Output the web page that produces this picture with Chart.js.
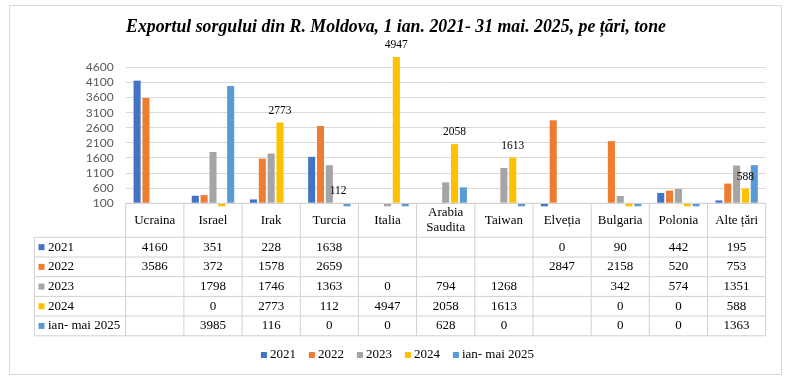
<!DOCTYPE html>
<html><head><meta charset="utf-8">
<script src="https://cdn.jsdelivr.net/npm/chart.js@4"></script>
<style>html,body{margin:0;padding:0;background:#fff}#wrap{width:792px;height:384px;position:relative}</style>
</head><body><div id="wrap"><canvas id="c" width="792" height="384"></canvas></div>
<script>
const categories = ['Ucraina','Israel','Irak','Turcia','Italia',['Arabia','Saudita'],'Taiwan','Elveția','Bulgaria','Polonia','Alte țări'];
const seriesNames = ['2021','2022','2023','2024','ian- mai 2025'];
const v2021 = [4160,351,228,1638,null,null,null,0,90,442,195];
const v2022 = [3586,372,1578,2659,null,null,null,2847,2158,520,753];
const v2023 = [null,1798,1746,1363,0,794,1268,null,342,574,1351];
const v2024 = [null,0,2773,112,4947,2058,1613,null,0,0,588];
const v2025 = [null,3985,116,0,0,628,0,null,0,0,1363];
const yMin = 100, yMax = 4600, yStep = 500;
const colors = ['#4472C4','#ED7D31','#A5A5A5','#FFC000','#5B9BD5'];
const titleText = 'Exportul sorgului din R. Moldova, 1 ian. 2021- 31 mai. 2025, pe țări, tone';
const labeledSeries = 3;

const allSeries = [v2021, v2022, v2023, v2024, v2025];
const serif = '"Liberation Serif", "Times New Roman", serif';

const extras = {
  id: 'extras',
  afterDraw(chart) {
    const ctx = chart.ctx, ca = chart.chartArea, xs = chart.scales.x;
    const n = categories.length, cw = (ca.right - ca.left) / n;
    ctx.save();
    // data labels
    const meta = chart.getDatasetMeta(labeledSeries);
    ctx.fillStyle = '#000';
    ctx.font = '11.5px ' + serif;
    ctx.textAlign = 'center'; ctx.textBaseline = 'middle';
    meta.data.forEach((el, i) => {
      const v = allSeries[labeledSeries][i];
      if (v !== null && v > 0) ctx.fillText(String(v), el.x, el.y - 12);
    });
    // table
    const top = ca.bottom, hdrB = top + 34, rowH = 19.7, leftT = 34.3;
    const bottomT = hdrB + 5 * rowH;
    ctx.strokeStyle = '#d0d0d0'; ctx.lineWidth = 1;
    const line = (x1, y1, x2, y2) => { ctx.beginPath(); ctx.moveTo(x1, y1); ctx.lineTo(x2, y2); ctx.stroke(); };
    line(ca.left, top, ca.right, top);
    for (let r = 0; r <= 5; r++) { const y = hdrB + r * rowH; line(leftT, y, ca.right, y); }
    for (let c = 0; c <= n; c++) {
      const x = (c < n ? xs.getPixelForValue(c) - cw / 2 : xs.getPixelForValue(n - 1) + cw / 2);
      line(x, top, x, bottomT);
    }
    line(leftT, hdrB, leftT, bottomT);
    ctx.fillStyle = '#000';
    ctx.font = '13px ' + serif;
    categories.forEach((cat, i) => {
      const cx = xs.getPixelForValue(i);
      const lines = Array.isArray(cat) ? cat : [cat];
      const cy = (top + hdrB) / 2;
      lines.forEach((t, k) => ctx.fillText(t, cx, cy + (k - (lines.length - 1) / 2) * 15));
    });
    allSeries.forEach((s, r) => {
      const cy = hdrB + r * rowH + rowH / 2;
      ctx.fillStyle = colors[r];
      ctx.fillRect(38.5, cy - 3, 6, 6);
      ctx.fillStyle = '#000';
      ctx.textAlign = 'left';
      ctx.fillText(seriesNames[r], 48, cy);
      ctx.textAlign = 'center';
      s.forEach((v, i) => {
        if (v !== null) ctx.fillText(String(v), xs.getPixelForValue(i), cy);
      });
    });
    // legend
    const box = 6, gap = 3, sep = 13;
    const widths = seriesNames.map(t => box + gap + ctx.measureText(t).width);
    const total = widths.reduce((a, b) => a + b, 0) + sep * (widths.length - 1);
    let lx = 397.5 - total / 2; const ly = 355;
    ctx.textAlign = 'left';
    seriesNames.forEach((t, i) => {
      ctx.fillStyle = colors[i];
      ctx.fillRect(lx, ly - 3, box, box);
      ctx.fillStyle = '#000';
      ctx.fillText(t, lx + box + gap, ly);
      lx += widths[i] + sep;
    });
    // outer border
    ctx.strokeStyle = '#d9d9d9';
    ctx.strokeRect(9.5, 5.5, 772, 369);
    ctx.restore();
  }
};

new Chart(document.getElementById('c'), {
  type: 'bar',
  data: {
    labels: categories,
    datasets: allSeries.map((s, i) => ({
      label: seriesNames[i], data: s, backgroundColor: colors[i],
      base: yMin, clip: false, categoryPercentage: 0.76, barPercentage: 0.8
    }))
  },
  options: {
    responsive: false, devicePixelRatio: 1, animation: false,
    layout: { padding: { top: 0, left: 26.3, right: 26.3, bottom: 180.7 } },
    plugins: {
      legend: { display: false }, tooltip: { enabled: false },
      title: { display: true, text: titleText, color: '#000',
        font: { family: serif, size: 17.8, weight: 'bold', style: 'italic' },
        padding: { top: 17, bottom: 29 } }
    },
    scales: {
      x: { display: false, offset: true },
      y: { min: yMin, max: yMax,
        ticks: { stepSize: yStep, autoSkip: false, color: '#595959', font: { family: 'Lato', size: 12 }, padding: 12,
          callback: v => String(v) },
        grid: { color: '#d9d9d9', drawTicks: false }, border: { display: false },
        afterFit(s) { s.width = 125.7 - 26.3; } }
    }
  },
  plugins: [extras]
});
</script></body></html>
